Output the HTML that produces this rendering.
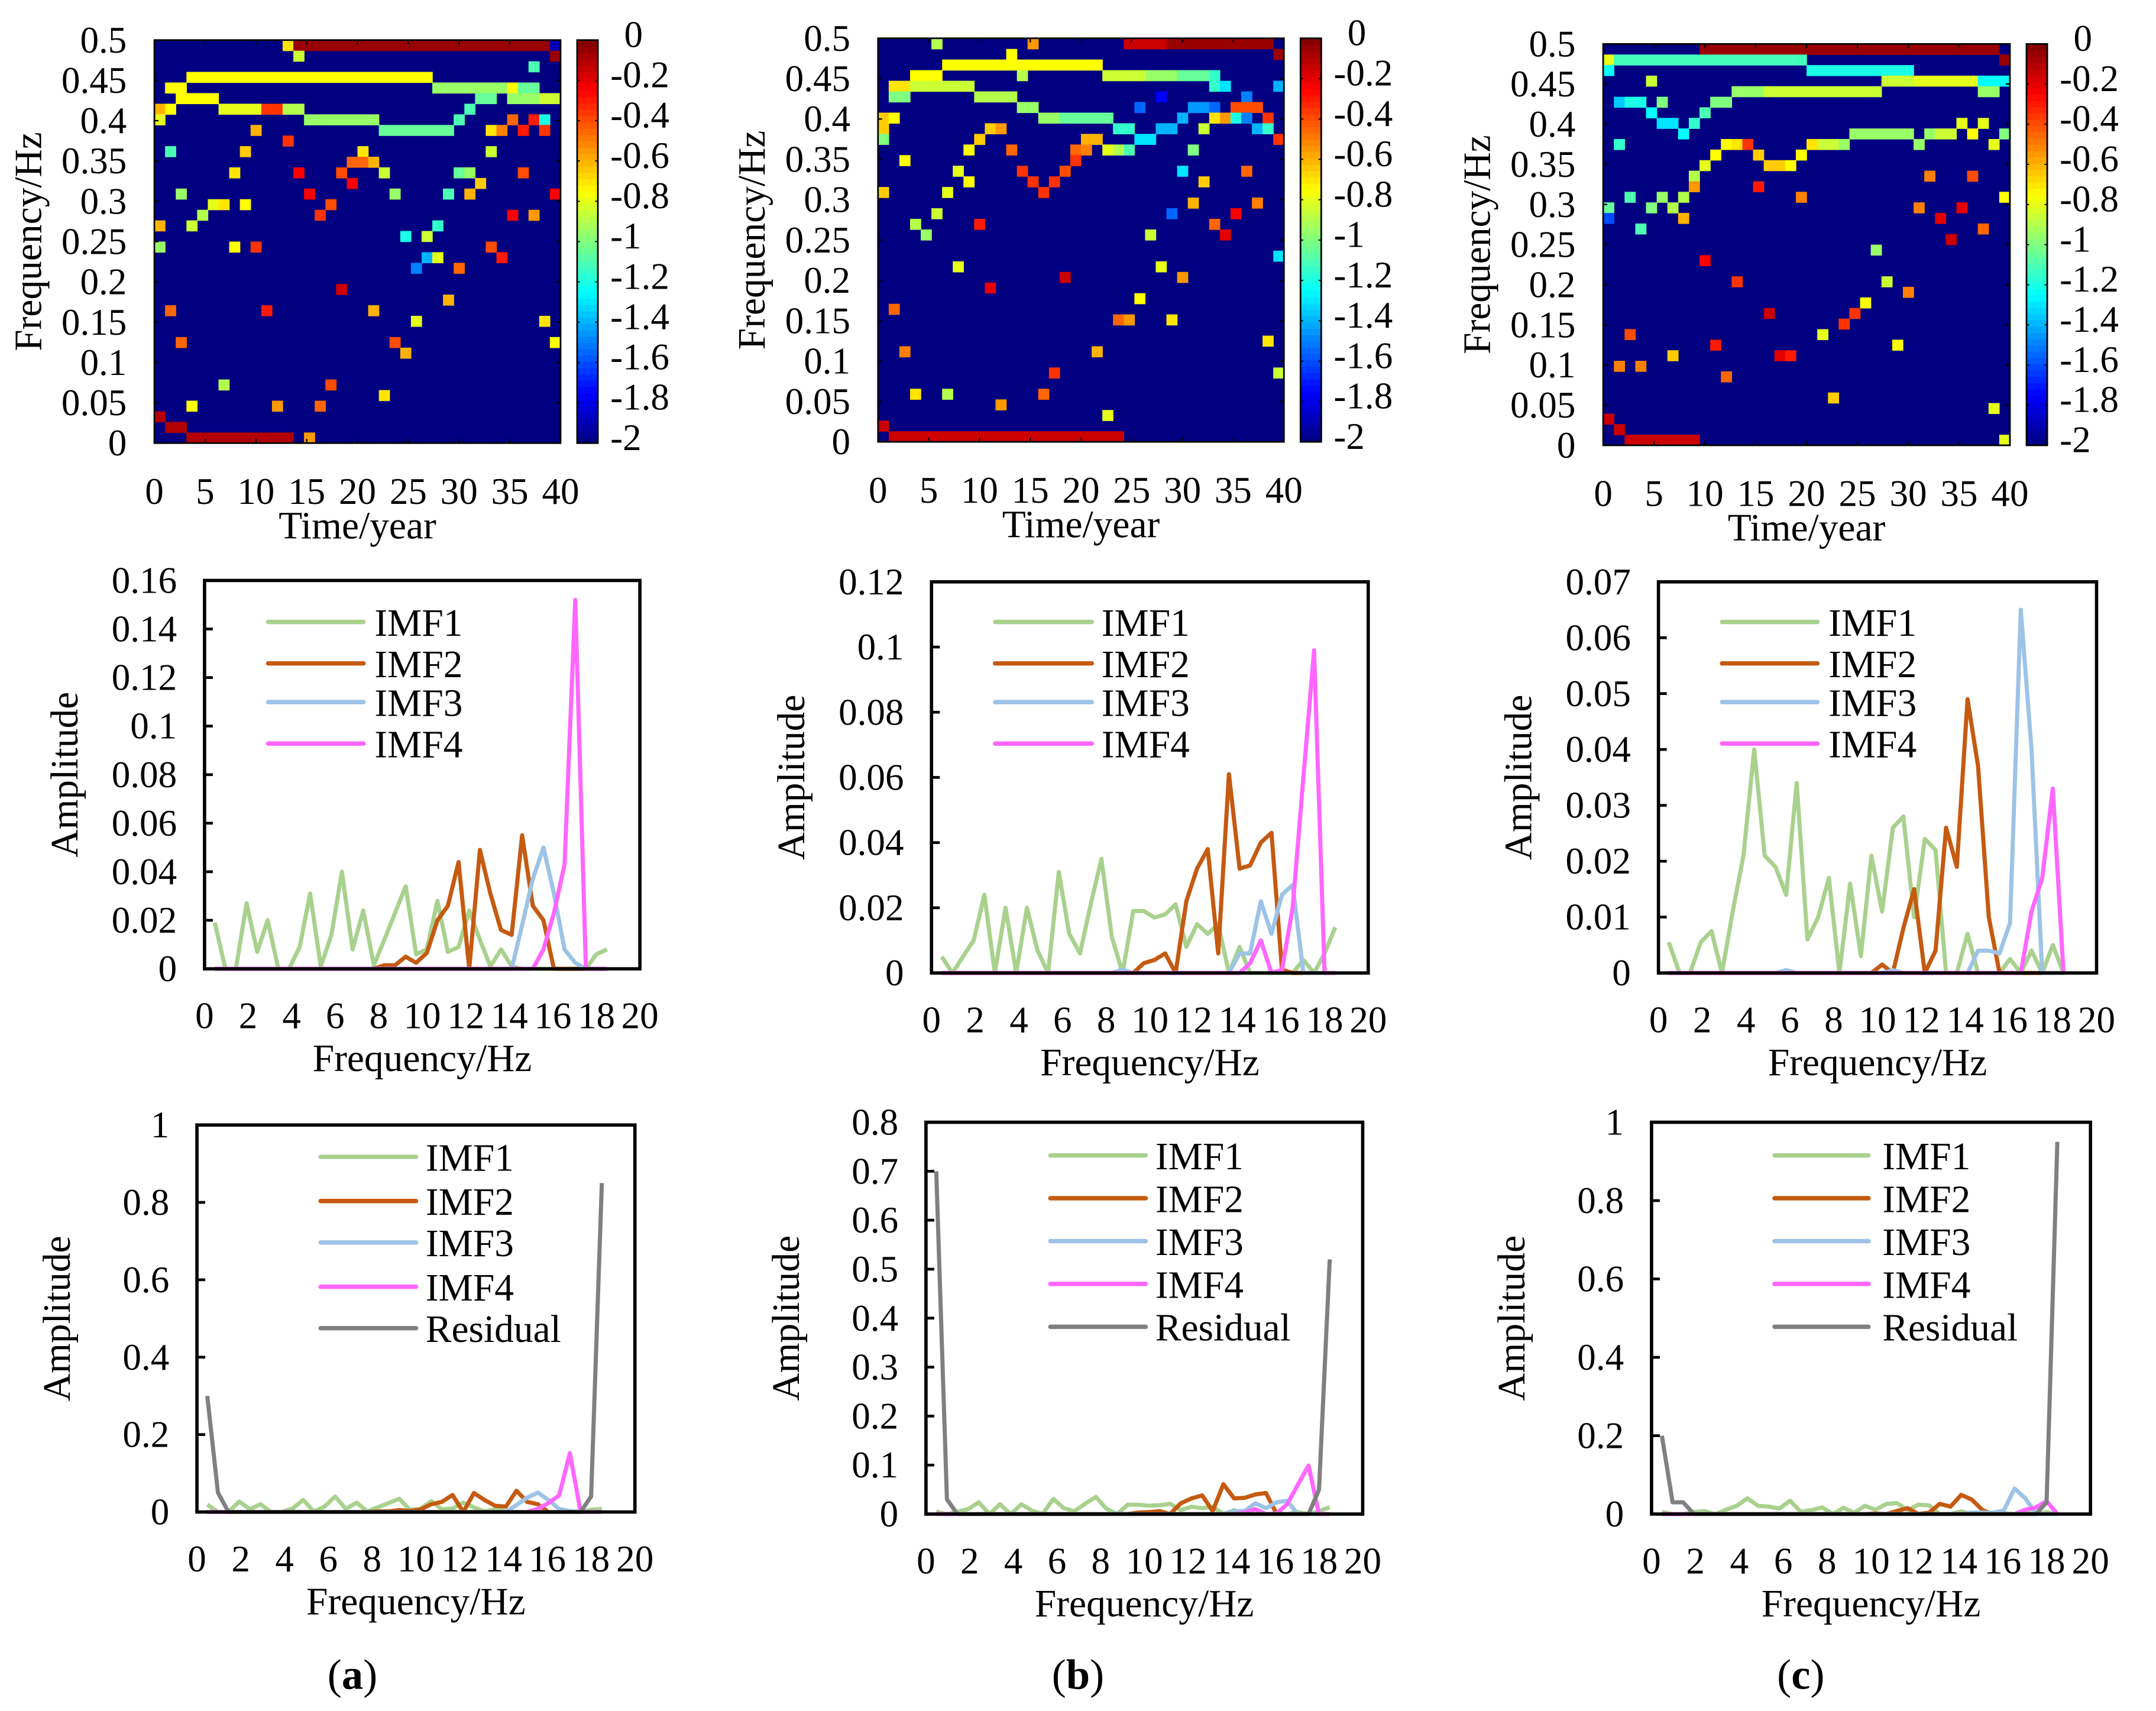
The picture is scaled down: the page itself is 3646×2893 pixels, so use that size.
<!DOCTYPE html>
<html><head><meta charset="utf-8">
<style>
html,body{margin:0;padding:0;background:#fff;}
svg{display:block;}
text{font-family:"Liberation Serif",serif;fill:#000;}
</style></head>
<body>
<svg id="fig" xmlns="http://www.w3.org/2000/svg" width="3646" height="2893" viewBox="0 0 1560 1238" preserveAspectRatio="none"></svg>
<script>
// ---------- Heatmap data: runs [rowFromTop, colStart, colEnd, log-value] on a 38x38 grid ----------
const heatA = [
[0,12,12,-0.7],[0,13,36,-0.05],[0,37,37,-1.9],[1,13,13,-0.85],[1,37,37,-0.05],[2,35,35,-1.1],
[3,3,25,-0.75],[4,1,2,-0.75],[4,26,32,-0.95],[4,33,33,-0.75],[4,34,35,-1.05],
[5,2,5,-0.75],[5,30,31,-1.05],[5,33,35,-0.95],[5,36,37,-0.85],
[6,0,0,-0.6],[6,1,1,-0.75],[6,6,9,-0.8],[6,10,11,-0.35],[6,12,13,-0.9],[6,29,29,-1.1],
[7,0,0,-0.8],[7,14,20,-0.95],[7,28,28,-1.1],[7,33,33,-0.45],[7,35,35,-0.3],[7,36,36,-1.2],
[8,9,9,-0.6],[8,21,27,-1.05],[8,31,31,-0.7],[8,32,32,-0.5],[8,34,34,-0.3],[8,36,36,-0.35],
[9,12,12,-0.35],[10,1,1,-1.1],[10,8,8,-0.65],[10,19,19,-0.7],[10,31,31,-0.85],
[11,18,19,-0.45],[11,20,20,-0.6],
[12,7,7,-0.7],[12,13,13,-0.25],[12,17,17,-0.4],[12,21,21,-0.85],[12,28,28,-1.05],[12,29,29,-0.95],[12,34,34,-0.4],
[13,18,18,-0.25],[13,30,30,-0.65],
[14,2,2,-0.95],[14,14,14,-0.25],[14,22,22,-0.95],[14,27,27,-1.1],[14,29,29,-0.6],[14,37,37,-0.25],
[15,5,5,-0.8],[15,6,6,-0.7],[15,8,8,-0.75],[15,16,16,-0.4],
[16,4,4,-0.9],[16,15,15,-0.35],[16,33,33,-0.25],[16,35,35,-0.55],
[17,0,0,-0.6],[17,3,3,-0.85],[17,26,26,-1.15],[18,23,23,-1.2],[18,25,25,-0.85],
[19,0,0,-0.95],[19,7,7,-0.75],[19,9,9,-0.35],[19,31,31,-0.4],
[20,25,25,-1.4],[20,26,26,-0.8],[20,32,32,-0.3],[21,24,24,-1.5],[21,28,28,-0.45],
[23,17,17,-0.15],[24,27,27,-0.6],[25,1,1,-0.45],[25,10,10,-0.3],[25,20,20,-0.6],
[26,24,24,-0.8],[26,36,36,-0.7],[28,2,2,-0.45],[28,22,22,-0.4],[28,37,37,-0.75],[29,23,23,-0.6],
[32,6,6,-0.9],[32,16,16,-0.4],[33,21,21,-0.7],[34,3,3,-0.75],[34,11,11,-0.55],[34,15,15,-0.45],
[35,0,0,-0.1],[36,1,2,-0.1],[37,3,12,-0.1],[37,14,14,-0.55]
];
const heatB = [
[0,5,5,-0.9],[0,14,14,-0.55],[0,23,26,-0.15],[0,27,36,-0.05],[1,12,12,-0.75],[1,37,37,-0.05],
[2,6,20,-0.75],[3,3,5,-0.75],[3,13,13,-0.9],[3,21,24,-0.85],[3,25,27,-0.95],[3,28,30,-1.05],[3,31,31,-1.15],
[4,1,2,-0.7],[4,3,8,-0.85],[4,31,31,-1.15],[4,32,32,-1.3],[4,37,37,-1.4],
[5,1,2,-1.0],[5,9,12,-0.9],[5,26,26,-1.75],[5,34,34,-1.5],
[6,13,14,-0.95],[6,24,24,-1.55],[6,29,30,-1.45],[6,31,31,-1.55],[6,33,35,-0.4],
[7,0,0,-0.65],[7,1,1,-0.75],[7,15,16,-0.95],[7,17,21,-1.05],[7,28,28,-1.4],[7,31,31,-0.7],[7,32,32,-0.55],[7,33,33,-1.2],[7,34,34,-1.5],[7,36,36,-0.35],
[8,0,0,-0.65],[8,10,10,-0.65],[8,11,11,-0.55],[8,22,23,-1.15],[8,26,27,-1.4],[8,30,30,-0.85],[8,35,35,-1.4],[8,36,36,-1.15],
[9,0,0,-1.0],[9,9,9,-0.65],[9,19,20,-0.6],[9,24,25,-1.3],[9,37,37,-0.35],
[10,8,8,-0.75],[10,12,12,-0.45],[10,18,18,-0.45],[10,19,19,-0.5],[10,21,21,-0.8],[10,22,22,-0.9],[10,23,23,-1.1],[10,29,29,-1.0],
[11,2,2,-0.75],[11,18,18,-0.35],
[12,7,7,-0.8],[12,13,13,-0.35],[12,17,17,-0.4],[12,28,28,-1.3],[12,34,34,-0.45],
[13,8,8,-0.75],[13,14,14,-0.35],[13,16,16,-0.35],[13,30,30,-0.65],
[14,0,0,-0.65],[14,6,6,-0.8],[14,15,15,-0.35],[15,29,29,-0.6],[15,35,35,-0.5],
[16,5,5,-0.85],[16,27,27,-1.55],[16,33,33,-0.25],[17,3,3,-0.9],[17,9,9,-0.3],[17,31,31,-0.45],
[18,4,4,-0.95],[18,25,25,-0.85],[18,32,32,-0.2],[20,37,37,-1.3],[21,7,7,-0.8],[21,26,26,-0.8],
[22,17,17,-0.15],[22,28,28,-0.55],[23,10,10,-0.2],[24,24,24,-0.75],[25,1,1,-0.45],
[26,22,22,-0.45],[26,23,23,-0.55],[26,27,27,-0.7],[28,36,36,-0.7],[29,2,2,-0.5],[29,20,20,-0.6],
[31,16,16,-0.35],[31,37,37,-0.85],[33,3,3,-0.7],[33,6,6,-0.9],[33,15,15,-0.45],[34,11,11,-0.55],
[35,21,21,-0.8],[36,0,0,-0.15],[37,1,22,-0.15]
];
const heatC = [
[0,9,36,-0.05],[1,0,0,-0.8],[1,1,18,-1.12],[1,37,37,-0.05],[2,0,0,-1.25],[2,19,28,-1.2],
[3,4,4,-0.85],[3,26,28,-0.85],[3,29,34,-0.8],[3,35,37,-1.25],
[4,12,14,-0.95],[4,15,25,-0.85],[4,35,36,-0.95],
[5,1,1,-1.35],[5,2,3,-1.2],[5,5,5,-1.0],[5,10,11,-1.0],[6,4,4,-1.25],[6,9,9,-1.1],
[7,5,6,-1.3],[7,8,8,-1.15],[7,33,33,-0.8],[7,35,35,-0.8],
[8,7,7,-1.25],[8,23,28,-0.95],[8,30,30,-0.95],[8,31,32,-0.85],[8,34,34,-0.75],[8,37,37,-1.0],
[9,1,1,-1.15],[9,11,11,-0.75],[9,12,12,-0.7],[9,13,13,-0.35],[9,19,19,-0.7],[9,20,21,-0.85],[9,22,22,-0.95],[9,29,29,-0.95],[9,36,36,-0.8],
[10,10,10,-0.75],[10,14,14,-0.65],[10,18,18,-0.75],[11,9,9,-0.8],[11,15,16,-0.65],[11,17,17,-0.75],
[12,8,8,-0.9],[12,30,30,-0.5],[12,34,34,-0.4],[13,8,8,-0.55],[13,14,14,-0.3],
[14,2,2,-1.1],[14,5,5,-0.95],[14,7,7,-0.9],[14,18,18,-0.5],[14,37,37,-0.75],
[15,0,0,-1.05],[15,4,4,-1.0],[15,6,6,-0.9],[15,29,29,-0.5],[15,33,33,-0.2],
[16,0,0,-1.6],[16,7,7,-0.6],[16,31,31,-0.2],[17,3,3,-1.1],[17,35,35,-0.45],[18,32,32,-0.15],
[19,25,25,-0.95],[20,9,9,-0.25],[22,12,12,-0.35],[22,26,26,-0.85],[23,28,28,-0.5],[24,24,24,-0.75],
[25,15,15,-0.15],[25,23,23,-0.35],[26,22,22,-0.35],[27,2,2,-0.4],[27,20,20,-0.8],
[28,10,10,-0.3],[28,27,27,-0.75],[29,6,6,-0.65],[29,16,16,-0.2],[29,17,17,-0.3],
[30,1,1,-0.5],[30,3,3,-0.5],[31,11,11,-0.45],[33,21,21,-0.65],[34,36,36,-0.8],
[35,0,0,-0.15],[36,1,1,-0.15],[37,2,8,-0.15],[37,37,37,-0.8]
];
const heatYTicks = ["0","0.05","0.1","0.15","0.2","0.25","0.3","0.35","0.4","0.45","0.5"];
const heatXTicks = ["0","5","10","15","20","25","30","35","40"];
const cbarTicks = ["0","-0.2","-0.4","-0.6","-0.8","-1","-1.2","-1.4","-1.6","-1.8","-2"];

// ---------- Spectrum data ----------
const freq = [0.47,0.96,1.44,1.93,2.42,2.9,3.39,3.88,4.37,4.85,5.34,5.83,6.31,6.8,7.29,7.78,8.26,8.75,9.24,9.72,10.21,10.7,11.18,11.67,12.16,12.65,13.13,13.62,14.11,14.59,15.08,15.57,16.05,16.54,17.03,17.52,18.0,18.49];
const xTicks = ["0","2","4","6","8","10","12","14","16","18","20"];
const imf1A = [0.019,0,0,0.027,0.007,0.02,0,0,0.009,0.031,0.001,0.014,0.04,0.008,0.024,0.0015,0.012,0.023,0.034,0.006,0.008,0.028,0.007,0.009,0.024,0.012,0.001,0.008,0.001,0,0,0,0,0,0,0,0.006,0.008];
const imf2A = [0,0,0,0,0,0,0,0,0,0,0,0,0,0,0,0,0.0015,0.0015,0.005,0.0025,0.0065,0.02,0.026,0.044,0,0.049,0.031,0.016,0.014,0.055,0.026,0.02,0,0,0,0,0,0];
const imf3A = [0,0,0,0,0,0,0,0,0,0,0,0,0,0,0,0,0,0,0,0,0,0,0,0,0,0,0,0,0,0.018,0.037,0.05,0.031,0.008,0.0025,0,0,0];
const imf4A = [0,0,0,0,0,0,0,0,0,0,0,0,0,0,0,0,0,0,0,0,0,0,0,0,0,0,0,0,0,0,0,0.008,0.023,0.043,0.152,0,0,0];
const resA = [0.3,0.05,0,0,0,0,0,0,0,0,0,0,0,0,0,0,0,0,0,0,0,0,0,0,0,0,0,0,0,0,0,0,0,0,0,0,0.04,0.85];
const imf1B = [0.005,0,0.005,0.01,0.024,0,0.02,0,0.02,0.007,0,0.031,0.012,0.006,0.021,0.035,0.011,0,0.019,0.019,0.017,0.018,0.021,0.008,0.015,0.012,0.015,0,0.008,0,0,0,0,0,0.004,0,0.006,0.014];
const imf2B = [0,0,0,0,0,0,0,0,0,0,0,0,0,0,0,0,0,0,0,0.003,0.004,0.006,0,0.022,0.032,0.038,0.006,0.061,0.032,0.033,0.04,0.043,0.001,0,0,0,0,0];
const imf3B = [0,0,0,0,0,0,0,0,0,0,0,0,0,0,0,0,0,0.001,0,0,0,0,0,0,0,0,0,0,0.006,0.006,0.022,0.012,0.024,0.027,0,0,0,0];
const imf4B = [0,0,0,0,0,0,0,0,0,0,0,0,0,0,0,0,0,0,0,0,0,0,0,0,0,0,0,0,0,0.003,0.01,0,0.001,0.02,0.06,0.099,0,0];
const resB = [0.7,0.03,0,0,0,0,0,0,0,0,0,0,0,0,0,0,0,0,0,0,0,0,0,0,0,0,0,0,0,0,0,0,0,0,0,0,0.05,0.52];
const imf1C = [0.0055,0,0,0.0055,0.0075,0,0.011,0.021,0.04,0.021,0.019,0.014,0.034,0.006,0.01,0.017,0,0.016,0.003,0.021,0.011,0.026,0.028,0.01,0.024,0.022,0,0,0.007,0,0,0,0.0025,0,0.004,0,0.005,0];
const imf2C = [0,0,0,0,0,0,0,0,0,0,0,0,0,0,0,0,0,0,0,0,0.0015,0,0.008,0.015,0,0.004,0.026,0.019,0.049,0.037,0.01,0,0,0,0,0,0,0];
const imf3C = [0,0,0,0,0,0,0,0,0,0,0,0.0005,0,0,0,0,0,0,0,0,0,0.0005,0,0,0,0,0,0,0,0.004,0.004,0.0035,0.009,0.065,0.04,0,0,0];
const imf4C = [0,0,0,0,0,0,0,0,0,0,0,0,0,0,0,0,0,0,0,0,0,0,0,0,0,0,0,0,0,0,0,0,0,0,0.011,0.017,0.033,0];
const resC = [0.2,0.03,0.03,0,0,0,0,0,0,0,0,0,0,0,0,0,0,0,0,0,0,0,0,0,0,0,0,0,0,0,0,0,0,0,0,0,0.03,0.95];
const yTicksA2 = ["0","0.02","0.04","0.06","0.08","0.1","0.12","0.14","0.16"];
const yTicksB2 = ["0","0.02","0.04","0.06","0.08","0.1","0.12"];
const yTicksC2 = ["0","0.01","0.02","0.03","0.04","0.05","0.06","0.07"];
const yTicksA3 = ["0","0.2","0.4","0.6","0.8","1"];
const yTicksB3 = ["0","0.1","0.2","0.3","0.4","0.5","0.6","0.7","0.8"];
const yTicksC3 = ["0","0.2","0.4","0.6","0.8","1"];
const seriesNames = ["IMF1","IMF2","IMF3","IMF4","Residual"];
const seriesColors = ["#a9d18e","#c55a11","#9dc3e6","#ff66ff","#808080"];

const NS = "http://www.w3.org/2000/svg";
const svg = document.getElementById('fig');
function mk(tag, attrs, parent){
  const e = document.createElementNS(NS, tag);
  for (const k in attrs) e.setAttribute(k, attrs[k]);
  (parent||svg).appendChild(e);
  return e;
}
function jet(v){
  const t = (v+2)/2;
  const c = x => Math.round(255*Math.max(0,Math.min(1,x)));
  return `rgb(${c(1.5-Math.abs(4*t-3))},${c(1.5-Math.abs(4*t-2))},${c(1.5-Math.abs(4*t-1))})`;
}

function heatmap(key, box, runs){
  const g = mk('g', {});
  
  
  const N = 38;
  const cw = (box.r-box.l)/N, ch = (box.b-box.t)/N;
  const bg = mk('rect', {x:box.l, y:box.t, width:box.r-box.l, height:box.b-box.t, fill:jet(-2)}, g);
  
  
  runs.forEach(rn => {
    const cell = mk('rect', {x:box.l+rn[1]*cw, y:box.t+rn[0]*ch, width:(rn[2]-rn[1]+1)*cw+0.3, height:ch+0.3, fill:jet(rn[3])}, g);
    
    
  });
  mk('rect', {x:box.l, y:box.t, width:box.r-box.l, height:box.b-box.t, fill:'none', stroke:'#000', 'stroke-width':1.2}, g);
  heatYTicks.forEach((lab,i) => {
    const y = box.b - i/(heatYTicks.length-1)*(box.b-box.t);
    mk('line', {x1:box.l, x2:box.l+3, y1:y, y2:y, stroke:'#000', 'stroke-width':1}, g);
    mk('line', {x1:box.r, x2:box.r-3, y1:y, y2:y, stroke:'#000', 'stroke-width':1}, g);
    const t = mk('text', {x:box.l-20, y:y+9, 'font-size':27, 'text-anchor':'end'}, g);
    t.textContent = lab;
    
    
  });
  heatXTicks.forEach((lab,i) => {
    const x = box.l + i/(heatXTicks.length-1)*(box.r-box.l);
    mk('line', {x1:x, x2:x, y1:box.b, y2:box.b-3, stroke:'#000', 'stroke-width':1}, g);
    mk('line', {x1:x, x2:x, y1:box.t, y2:box.t+3, stroke:'#000', 'stroke-width':1}, g);
    const t = mk('text', {x:x, y:box.b+44, 'font-size':27, 'text-anchor':'middle'}, g);
    t.textContent = lab;
    
    
  });
  const xt = mk('text', {x:(box.l+box.r)/2, y:box.b+69, 'font-size':28, 'text-anchor':'middle'}, g);
  xt.textContent = 'Time/year';
  
  
  const cy = (box.t+box.b)/2, cx = box.l-82;
  const yt = mk('text', {x:cx, y:cy, 'font-size':28, 'text-anchor':'middle', transform:`rotate(-90 ${cx} ${cy})`}, g);
  yt.textContent = 'Frequency/Hz';
  
  
  const cbx = box.r+12, cbw = 15;
  const cg = mk('g', {}, g);
  
  
  const steps = 64;
  for (let s=0; s<steps; s++){
    const v = -2 + (s+0.5)/steps*2;
    const y = box.b - (s+1)/steps*(box.b-box.t);
    mk('rect', {x:cbx, y:y, width:cbw, height:(box.b-box.t)/steps+0.4, fill:jet(v)}, cg);
  }
  mk('rect', {x:cbx, y:box.t, width:cbw, height:box.b-box.t, fill:'none', stroke:'#000', 'stroke-width':1.2}, cg);
  cbarTicks.forEach((lab,i) => {
    const y = box.t + i/(cbarTicks.length-1)*(box.b-box.t);
    mk('line', {x1:cbx, x2:cbx+2, y1:y, y2:y, stroke:'#000', 'stroke-width':0.8}, cg);
    mk('line', {x1:cbx+cbw, x2:cbx+cbw-2, y1:y, y2:y, stroke:'#000', 'stroke-width':0.8}, cg);
    const t = mk('text', {x:cbx+cbw+9 + (lab[0]==='-'?0:10), y:y+5, 'font-size':27}, cg);
    t.textContent = lab;
    
    
  });
}

function spectrum(key, box, ymax, yTicks, series, legend){
  const g = mk('g', {});
  
  
  const X = f => box.l + f/20*(box.r-box.l);
  const Y = v => box.b - v/ymax*(box.b-box.t);
  yTicks.forEach(lab => {
    const y = Y(parseFloat(lab));
    mk('line', {x1:box.l, x2:box.l+6, y1:y, y2:y, stroke:'#000', 'stroke-width':2}, g);
    const t = mk('text', {x:box.l-20, y:y+9, 'font-size':27, 'text-anchor':'end'}, g);
    t.textContent = lab;
    
    
  });
  xTicks.forEach(lab => {
    const x = X(parseFloat(lab));
    const t = mk('text', {x:x, y:box.b+43, 'font-size':27, 'text-anchor':'middle'}, g);
    t.textContent = lab;
    
    
  });
  series.forEach((vals, si) => {
    const pts = vals.map((v,i) => X(freq[i]).toFixed(2)+','+Y(v).toFixed(2)).join(' ');
    const pl = mk('polyline', {points:pts, fill:'none', stroke:seriesColors[si], 'stroke-width':3, 'stroke-linejoin':'round'}, g);
    
    
  });
  mk('rect', {x:box.l, y:box.t, width:box.r-box.l, height:box.b-box.t, fill:'none', stroke:'#000', 'stroke-width':2.4}, g);
  series.forEach((vals, si) => {
    const ly = legend.rows[si];
    const lg = mk('g', {}, g);
    
    
    mk('line', {x1:legend.x1, x2:legend.x2, y1:ly, y2:ly, stroke:seriesColors[si], 'stroke-width':3.2, 'stroke-linecap':'round'}, lg);
    const t = mk('text', {x:legend.tx, y:ly+10, 'font-size':28}, lg);
    t.textContent = seriesNames[si];
  });
  const xt = mk('text', {x:(box.l+box.r)/2, y:box.b+74, 'font-size':28, 'text-anchor':'middle'}, g);
  xt.textContent = 'Frequency/Hz';
  
  
  const cy = (box.t+box.b)/2, cx = box.l-92;
  const yt = mk('text', {x:cx, y:cy, 'font-size':28, 'text-anchor':'middle', transform:`rotate(-90 ${cx} ${cy})`}, g);
  yt.textContent = 'Amplitude';
  
  
}

heatmap('a', {l:111.7, r:405.6, t:29, b:320.6}, heatA);
heatmap('b', {l:635.3, r:929, t:27.7, b:319.7}, heatB);
heatmap('c', {l:1160, r:1454.3, t:31.8, b:322.2}, heatC);

spectrum('a-imf', {l:148, r:463, t:420, b:701}, 0.16, yTicksA2, [imf1A,imf2A,imf3A,imf4A],
  {x1:194, x2:263, tx:271, rows:[450,480,508,538]});
spectrum('b-imf', {l:674, r:990, t:421, b:704}, 0.12, yTicksB2, [imf1B,imf2B,imf3B,imf4B],
  {x1:720, x2:790, tx:797, rows:[450,480,508,538]});
spectrum('c-imf', {l:1200, r:1517, t:421, b:704}, 0.07, yTicksC2, [imf1C,imf2C,imf3C,imf4C],
  {x1:1246, x2:1315, tx:1323, rows:[450,480,508,538]});
spectrum('a-residual', {l:142.5, r:459.4, t:814, b:1094}, 1, yTicksA3, [imf1A,imf2A,imf3A,imf4A,resA],
  {x1:232, x2:301, tx:308, rows:[837,869,899,931,961]});
spectrum('b-residual', {l:670, r:986, t:812, b:1095.5}, 0.8, yTicksB3, [imf1B,imf2B,imf3B,imf4B,resB],
  {x1:760, x2:829, tx:836, rows:[836,867,898,929,960]});
spectrum('c-residual', {l:1195, r:1512.6, t:812, b:1095.5}, 1, yTicksC3, [imf1C,imf2C,imf3C,imf4C,resC],
  {x1:1284, x2:1352, tx:1362, rows:[836,867,898,929,960]});

[['a',255],['b',780],['c',1303]].forEach(p => {
  const t = mk('text', {x:p[1], y:1222, 'font-size':31, 'text-anchor':'middle'});
  
  
  t.innerHTML = '(<tspan font-weight="bold">' + p[0] + '</tspan>)';
});
</script>
</body></html>
